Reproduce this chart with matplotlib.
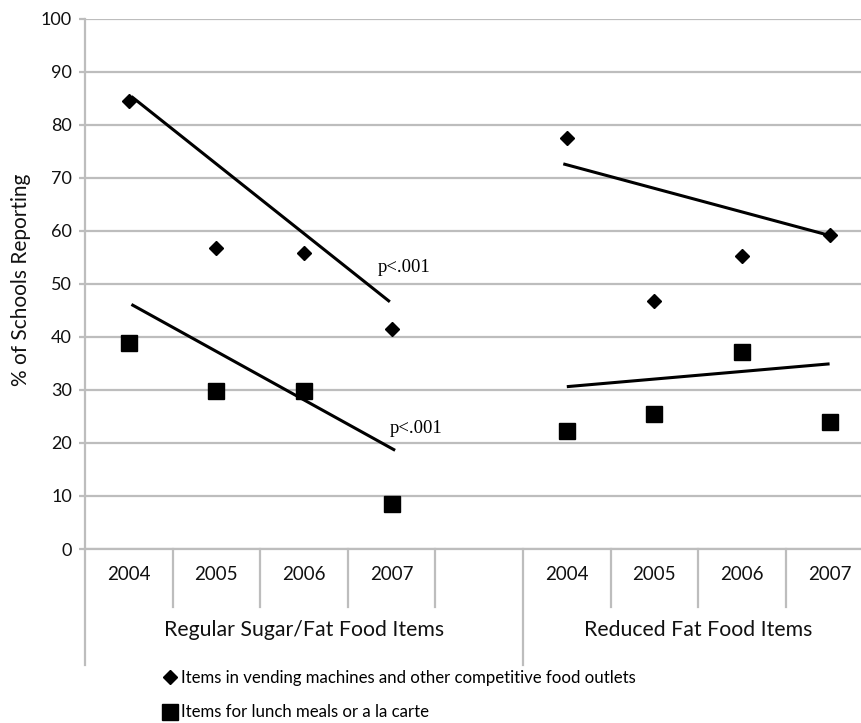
import matplotlib
matplotlib.use("Agg")
import matplotlib.pyplot as plt

# school survey results, two food groups, four years each
years = ["2004", "2005", "2006", "2007"]
groups = ["Regular Sugar/Fat Food Items", "Reduced Fat Food Items"]
x_pos = [0, 1, 2, 3, 5, 6, 7, 8]
vending = [84.4, 56.8, 55.8, 41.4, 77.4, 46.8, 55.2, 59.2]
lunch = [38.9, 29.7, 29.7, 8.5, 22.2, 25.4, 37.2, 23.9]

# fitted trend lines (start, end) per group
trend_x = [[0.03, 2.98], [0.03, 3.04], [4.96, 8.0], [5.0, 8.0]]
trend_y = [[85.3, 46.6], [46.1, 18.6], [72.6, 59.1], [30.6, 34.9]]
p_labels = ["p<.001", "p<.001"]
p_x = [2.84, 2.98]
p_y = [53.0, 22.8]

series_names = ["Items in vending machines and other competitive food outlets",
                "Items for lunch meals or a la carte"]

plt.rcParams['font.family'] = ['Lato', 'DejaVu Sans']
grey = '#bdbdbd'
ink = '#111111'

fig = plt.figure(figsize=(8.61, 7.23), dpi=100)
ax = fig.add_axes([85 / 861, 1 - 549 / 723, 788.4 / 861, 530.5 / 723])

ax.set_xlim(-0.5, 8.5)
ax.set_ylim(0, 100)
ax.set_yticks(range(0, 101, 10))
ax.yaxis.grid(True, color=grey, linewidth=1.6)
ax.set_axisbelow(True)
for s in ['top', 'right', 'bottom']:
    ax.spines[s].set_visible(False)
ax.spines['left'].set_color(grey)
ax.spines['left'].set_linewidth(1.6)
ax.tick_params(axis='y', length=4.5, width=1.6, color=grey, pad=5, labelsize=13, labelcolor=ink)
ax.set_xticks([])

h1, = ax.plot(x_pos, vending, 'D', color='black', ms=7.3, linestyle='none', label=series_names[0])
h2, = ax.plot(x_pos, lunch, 's', color='black', ms=11, linestyle='none', label=series_names[1])

for tx, ty in zip(trend_x, trend_y):
    ax.plot(tx, ty, color='black', lw=2.2, solid_capstyle='butt')

for lab, px, py in zip(p_labels, p_x, p_y):
    ax.text(px, py, lab, family='Liberation Serif', fontsize=13.5, ha='left', va='center')

ax.set_ylabel("% of Schools Reporting", fontsize=15, color=ink)
ax.yaxis.set_label_coords(-54 / 788.4, (549 - 280) / 530.5)

# category axis: baseline, dividers and labels
trans = ax.get_xaxis_transform()
ax.plot([-0.5, 8.5], [0, 0], color=grey, lw=1.6, transform=trans, clip_on=False)
short = -58 / 530.5
long_ = -116 / 530.5
for d in [0.5, 1.5, 2.5, 3.5, 5.5, 6.5, 7.5]:
    ax.plot([d, d], [0, short], color=grey, lw=1.6, transform=trans, clip_on=False)
for d in [-0.5, 4.5]:
    ax.plot([d, d], [0, long_], color=grey, lw=1.6, transform=trans, clip_on=False)

for i, xp in enumerate(x_pos):
    ax.text(xp, -26 / 530.5, years[i % 4], transform=trans, ha='center', va='center',
            fontsize=13.5, color=ink)
ax.text(2.0, -81 / 530.5, groups[0], transform=trans, ha='center', va='center', fontsize=15.3, color=ink)
ax.text(6.5, -81 / 530.5, groups[1], transform=trans, ha='center', va='center', fontsize=15.3, color=ink)

fig.legend(handles=[h1, h2], loc='upper left', bbox_to_anchor=(162 / 861, 1 - 670 / 723),
           frameon=False, fontsize=12.1, handlelength=0.9, handletextpad=0.25, labelspacing=1.1,
           borderpad=0, borderaxespad=0)

fig.savefig("out.png", dpi=100)
